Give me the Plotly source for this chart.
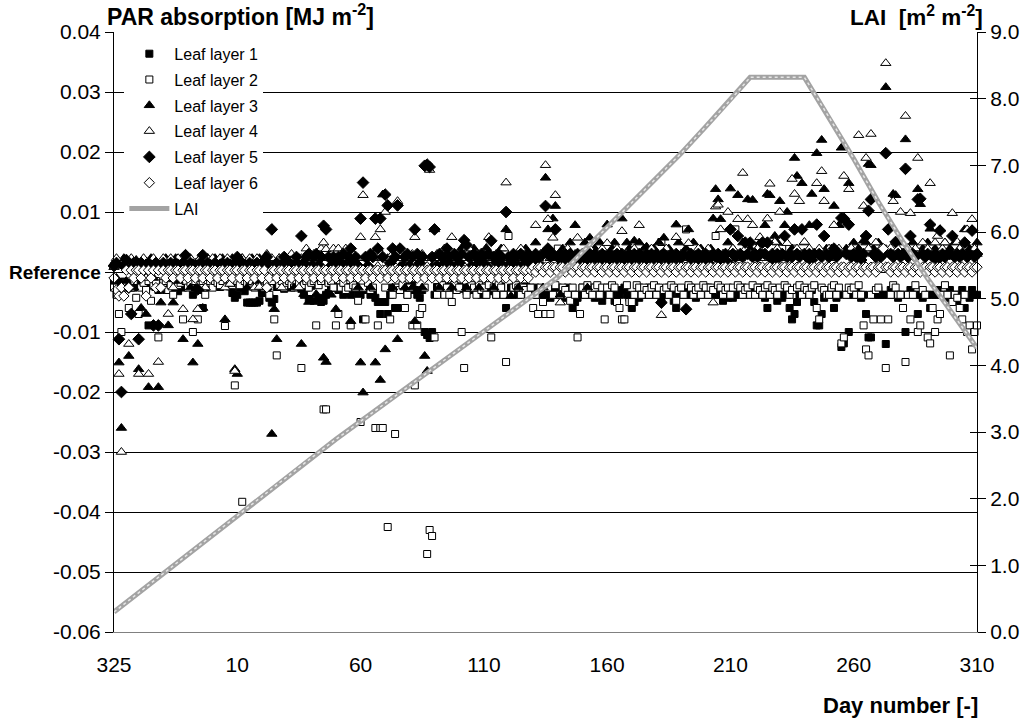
import plotly.graph_objects as go

# x positions are consecutive days starting at day 325 of the first year
day_index = list(range(351))
x_tick_index = [0, 50, 100, 150, 200, 250, 300, 350]
x_tick_labels = ["325", "10", "60", "110", "160", "210", "260", "310"]

# PAR absorption relative to reference, in 10^-3 MJ m-2 (axis labels show MJ m-2)
y_tick_vals = [-60, -50, -40, -30, -20, -10, 0, 10, 20, 30, 40]
y_tick_text = ["-0.06", "-0.05", "-0.04", "-0.03", "-0.02", "-0.01",
               "<span style='font-size:19px'><b>Reference</b></span>",
               "0.01", "0.02", "0.03", "0.04"]
lai_tick_vals = [0, 1, 2, 3, 4, 5, 6, 7, 8, 9]
lai_tick_text = ["0.0", "1.0", "2.0", "3.0", "4.0", "5.0", "6.0", "7.0", "8.0", "9.0"]

layer1 = [
    -1.5, -2, -1.8, -2.2, -1.6, -2.5, -2, -1.8, -2.6, -2.1,
    -1.9, -2.4, -2, -2.8, -8.9, -2.2, -2, -2.5, -3, -2.4,
    -2.2, -3, -2.5, -2, -2.8, -2.4, -3.2, -2, -2.6, -2.3,
    -2, -2.5, -3.8, -2.2, -2.9, -3, -6, -2.4, -2, -2.5,
    -2, -1.8, -2.3, -2.5, -1.5, -2, -1.8, -2.4, -3.5, -4.3,
    -3.8, -2.6, -2.2, -3.2, -5.1, -5.1, -5.1, -5.1, -5.1, -4.8,
    -3.5, -2.6, -3.2, -4.3, -5.1, -4.5, -2.5, -2, -2.3, -2.8,
    -2, -2.4, -2.6, -1.8, -2.5, -2.2, -2.8, -3.8, -2.6, -4.5,
    -2.3, -4.8, -2, -4.3, -5, -4.8, -3.8, -3.5, -2.6, -2.4,
    -2.6, -3, -2.6, -3.8, -3.5, -2.5, -3.8, -2.6, -2.4, -3.8,
    -3.8, -7.9, -3, -2.6, -3.8, -3.2, -4.3, -5, -7, -5,
    -5, -7, -3.8, -2.6, -6, -6, -2.6, -3, -2.4, -3.8,
    -2.6, -2.2, -3, -3.8, -4.3, -3, -10, -10.5, -11, -10,
    -3.8, -2.5, -2.6, -3, -2.2, -2.4, -2.6, -3, -2.2, -2.5,
    -2.4, -2.8, -2.6, -3.2, -2.6, -3, -2.4, -2.6, -2.8, -3.8,
    -2.6, -3.8, -3.2, -2.6, -3, -3.8, -2.6, -2.4, -3.8, -6,
    -3.8, -2.6, -3, -2.8, -3.8, -2.6, -3, -2.4, -2.6, -3.2,
    -3.8, -2.6, -3.8, -3.8, -3.2, -3.8, -3.8, -4.3, -3, -3.8,
    -2.6, -3.8, -4.3, -3, -2.6, -3.8, -6, -5, -4.3, -3.8,
    -2.6, -3.8, -3, -3.8, -2.6, -4.3, -3.8, -3, -4.8, -3.8,
    -3, -2.6, -3.8, -4.8, -4.8, -3.8, -3, -2.6, -3.8, -4.3,
    -6, -5, -3.8, -4.3, -3, -3.8, -3.8, -2.6, -3.8, -3,
    -2.6, -3.8, -4.3, -3, -3.8, -2.6, -3.8, -4.8, -6, -3.8,
    -3.8, -3, -3.8, -3.8, -2.6, -3.8, -4.3, -3, -3.8, -2.6,
    -3.8, -2.6, -3.8, -3, -3.8, -3.8, -3.8, -4.8, -3, -4.3,
    -3.8, -4.3, -3.8, -3, -3.8, -2.6, -3.8, -3, -3.8, -2.6,
    -3.8, -3, -2.6, -3.8, -4.3, -6, -3.8, -3, -3.8, -4.8,
    -3.8, -4.3, -3, -3.8, -6, -7.9, -7, -5, -3.8, -3.8,
    -3, -3.8, -3.8, -3, -5, -8.9, -8.9, -7, -4.3, -3.8,
    -3.8, -3, -6, -4.3, -3.8, -12.5, -11.9, -3.8, -10, -3.8,
    -3.8, -3, -3.8, -4.3, -3.8, -7, -10.9, -10.9, -3.8, -3.8,
    -3, -3.8, -3.8, -12, -3.8, -3, -3.8, -3.8, -4.3, -3.8,
    -3.8, -10, -3.8, -3, -3.8, -3.8, -7, -3.8, -4.3, -3.8,
    -3.8, -6, -3.8, -3.8, -3, -3.8, -3.8, -4.3, -3.8, -3,
    -3.8, -3.8, -4.8, -3.8, -3, -6, -3.8, -4.3, -3, -3.8,
    -3.8,
]

layer2 = [
    -2.6, -3.8, -7, -10, -2.6, -1.8, -6, -2.6, -1.5, -4.3,
    -7, -2.6, -1.8, -3, -1.5, -4.8, -2.2, -1.5, -10.9, -2.6,
    -1.8, -1.5, -3, -2.2, -3.8, -1.5, -2.2, -1.8, -7.9, -1.5,
    -2.6, -1.8, -10, -1.5, -7.9, -2.2, -1.5, -3.8, -1.8, -1.5,
    -2.6, -1.5, -1.8, -2.2, -1.5, -9, -1.8, -1.5, -2.2, -18.9,
    -1.5, -2.2, -38.3, -1.5, -1.8, -2.2, -1.5, -2.6, -1.8, -2.2,
    -1.5, -2.6, -1.8, -3.8, -1.5, -7.9, -13.9, -2.2, -1.5, -2.6,
    -1.8, -1.5, -2.2, -2.6, -1.5, -1.8, -16, -2.2, -1.5, -2.6,
    -1.8, -1.5, -8.9, -2.2, -1.5, -22.9, -22.9, -1.8, -1.5, -2.6,
    -8.9, -7, -2.6, -1.8, -3, -2.6, -8.9, -2.2, -2.6, -4.8,
    -25, -2.6, -7.9, -1.8, -3, -2.6, -26, -8.9, -26, -26,
    -2.6, -42.5, -7.9, -3.8, -27, -2.6, -3, -2.2, -6, -3.8,
    -2.6, -8.9, -18.9, -8.9, -7, -6, -2.6, -47, -43, -44,
    -10.9, -3.8, -2.6, -2.2, -3.8, -2.6, -3.8, -5, -2.2, -3,
    -2.6, -10, -16, -3.8, -2.6, -2.2, -2.6, -3.8, -2.2, -3,
    -2.6, -3.8, -2.2, -10.9, -2.6, -3.8, -2.2, -2.6, -3.8, -15,
    6, -3.8, -2.6, -2.2, -2.6, -3.8, -2.6, -3, -3.8, -2.6,
    -6, -3.8, -7, -2.6, -5, -7, -2.6, -7, -3.8, -2.2,
    3.9, -3.8, -2.6, -3, -3.8, -4.8, -2.6, -3.8, -10.9, -7,
    -2.6, -3.8, -2.2, -3, -3.8, -2.6, -2.2, -3.8, -2.6, -7.9,
    -2.6, -3.8, -2.2, -2.6, -5, -6, -7.9, -7.9, -2.2, -5,
    -5, -3.8, -2.2, -2.6, -3.8, -2.6, -3, -3.8, -2.6, -2.2,
    -3.8, -2.6, 5, -3, -2.6, -3.8, -2.2, -2.6, -4.8, -3,
    -2.6, -3.8, 7.1, -2.2, -2.6, -3.8, -3, -2.6, -3.8, -2.2,
    -2.6, -3.8, -2.6, -3, 6, -2.2, -2.6, -3.8, -3, -2.6,
    -3.8, -2.6, 7.1, -2.2, -2.6, -3.8, -3, -2.6, -3.8, -2.2,
    -3.8, -2.6, -3, -3.8, -2.6, -2.2, -3.8, -2.6, -3, -3.8,
    -2.6, 3.9, -2.2, -2.6, -3.8, -3, 3.9, -2.6, -2.2, -3.8,
    -2.6, -3, -3.8, -2.6, -2.2, -6, -7.9, -2.6, -3, -3.8,
    -3.8, -2.6, -2.2, -3.8, -2.6, -11.9, -10.9, -3.8, -2.6, -3,
    -2.6, -3.8, -2.2, -3.8, -8.9, -12.9, -13.9, -3.8, -7.9, -3,
    -2.6, -7.9, 3.9, -16, -7.9, -3.8, -2.2, -2.6, -3.8, -3.8,
    -6, -15, -3.8, -7.9, -3.8, -2.2, -10, -8.9, -3, -3.8,
    -10.9, -11.9, -6, -10, -7.9, -7, -3.8, -2.2, -3.8, -13.9,
    -5, -3.8, -4.3, -6, -7.9, -3.8, -10, -8.9, -12.9, -10,
    -8.9,
]

layer3 = [
    1.5, -1, -15.1, -26, 2.3, -1.5, -14, 1, -2.6, 2,
    -16.2, -6, 1.5, -7, -19.2, 2.3, -1, 1.5, -19.2, -5.1,
    1, 2.3, -8.9, 1, -5.1, 2.3, -1.5, 1, -11.2, 2.3,
    1, -2.6, -15.1, 1.5, -12, 2.3, -6, 1, 2.3, -1,
    1.5, 2.3, -1, 1, 2.3, -7.9, 1, -2, 2.3, -16.2,
    -17, 1, 2.3, 1, -2.6, 1.5, 2.3, 1, -1.5, 2.3,
    1, 2.3, -2.6, 1, -27, -6.2, -11.2, 2.3, 1, -1,
    1.5, 2.3, 1, -2.6, 1, 2.3, -12, -3.7, 1, -5,
    2.3, 1, -3.7, 1, 2.3, -14.3, -15, 2.3, -3.8, 1,
    -6.2, 1, 2.3, -1, 1, 2.3, -8.2, 1, 2.3, -2.6,
    -15.1, -20.1, 2.3, 1, -2.6, 2.3, -15.1, 3.9, -18, 12.9,
    -12.9, 2.3, 1, -2.6, 2.3, -11.2, 1, 2.3, -2.6, 1,
    2.3, -2.6, -8.2, 1, 2.3, -2.6, -14, -16.5, 2.3, 1,
    7.1, 2.3, -2.6, 1, 2.3, 3, 1, -2.6, 2.3, 1,
    2.3, 4, 1, -2.6, 2.3, 1, 3.9, 2.3, -2.6, 1,
    2.3, 4, 1, 2.3, -2.6, 1, 2.3, 3.9, 1, 7.1,
    2.3, -4, 1, 2.3, -2.6, 1, 2.3, 3.9, 1, 2.3,
    1, 4.9, 2.3, 1, -2.6, 15.7, 7.1, 2.3, 8.9, 11,
    2.3, -3.8, 3.9, 1, 2.3, 4.9, 2.3, 7.8, 3, 1,
    2.3, 4.9, -2.6, 5.7, 2.3, 3.9, 1, 4.9, 2.3, 3,
    7.9, 2.3, 3.9, 4.9, 2.3, 3, 8.9, 2.3, 4.9, 3.9,
    2.3, 5.2, 3, 4.9, 2.3, 3.9, 4.2, 2.3, 3, 3.9,
    2.3, 4.9, 3, 5.7, 2.3, 3.9, 3, 2.3, 7.9, 4.9,
    3, 2.3, 3.9, 7.1, 2.3, 4.9, 3, 2.3, 3.9, 2.3,
    3, 2.3, 3.9, 8.9, 13.8, 12.1, 8.8, 3, 2.3, 4.9,
    13.9, 3.9, 3, 12.8, 2.3, 4.9, 3, 12.1, 3.9, 12,
    2.3, 3.9, 4.9, 3, 7.8, 13, 12.8, 3, 6, 4.9,
    11.8, 3, 7.8, 10, 3, 3.9, 19, 16, 3, 14.8,
    4.9, 3, 7.8, 13, 3, 19.8, 3, 22, 13.8, 3.9,
    3, 3.9, 11, 3, 7.8, 20.7, 3, 3.9, 14.8, 3,
    4.9, 3, 3.9, 3, 5.2, 4.9, 18, 17.8, 3.9, 3,
    4.9, 3, 3.9, 30.8, 3, 3.9, 13, 12.8, 3, 4.9,
    3, 22.1, 3.9, 3, 4.9, 3, 13.8, 11.3, 3.9, 3,
    4.9, 7.2, 3, 3.9, 3, 7.1, 3, 4.9, 3, 3.9,
    3, 4.9, 3, 3.9, 3, 7.1, 3, 3.9, 7.1, 3,
    4.9,
]

layer4 = [
    0.8, 2.3, -17, -30, 1, -2.6, -12, 2.3, 1, 0.8,
    -17, 1, 2.3, -1, -17, 1, 2.3, -2.6, -15, 1,
    2.3, 1, -7, 2.3, -2.6, 1, 2.3, 1, -6.2, 2.3,
    1, 2.3, -7.9, 1, -6.2, 2.3, 1, -2.6, 2.3, 1,
    2.3, 1, -1, 2.3, 1, -2.6, 2.3, -2, 1, -16.5,
    2.3, 1, 2.3, -1, 1, 2.3, 1, -2.6, 2.3, -2.5,
    1, 2.3, 3, 1, 2.3, -1, 1, 2.3, -2.6, 1,
    2.3, 1, 3, 2.3, 1, -2.6, 2.3, 1, 3.9, 2.3,
    1, 3, 2.3, 1, 3.9, 4.9, 3.8, 2.3, 1, 3.9,
    2.3, 3.9, 1, 2.3, 3.9, 1, 2.3, 3, 1, 2.3,
    5.8, 12.8, 2.3, 1, 3, 2.3, 5.8, 1, 7.1, 2.3,
    10, 1, 2.3, 3, 1, 11.8, 2.3, 3, 1, 2.3,
    1, 3, 5.8, 2.3, 1, 3, 2.3, 1, 17, 2.3,
    1, 3, 2.3, 1, 3.9, 2.3, 1, 5.8, 2.3, 1,
    3, 2.3, 1, 3.9, 3.9, 1, 2.3, 3, 1, 2.3,
    3, 2.3, 5.8, 1, 2.3, 3, 1, 2.3, 3.9, 14.9,
    2.3, 1, 3, 2.3, 1, 3.9, 2.3, 1, 3, 2.3,
    1, 7.8, 2.3, 3, 1, 17.8, 8.8, 2.3, 5.7, 12.8,
    2.3, -5.1, 3, 2.3, 3.9, 1, 2.3, 3, 5.7, 2.3,
    3, 1, 2.3, 3.9, 1, 3, 2.3, 1, 3.9, 2.3,
    4.8, 1, 3, 2.3, 3.9, 1, 6.8, 2.3, 3, 1,
    2.3, 3.9, 1, 7.8, 2.3, 3, 1, 2.3, 3.9, 1,
    3, 2.3, -7.2, 1, 3.9, 2.3, 3, 1, 5.8, 2.3,
    3, 1, 2.3, 4.8, 3, 1, 2.3, 3.9, 1, 3,
    2.3, 3.9, 1, -5.1, 10.9, 11.2, 7.1, 3, 2.3, 10,
    3, 3.9, 2.3, 8.8, 3, 16.5, 3.8, 8.8, 3, 7.8,
    3, 3.9, 5.8, 3, 2.3, 8.9, 14.7, 3, 5, 3.9,
    10, 3, 2.3, 4.8, 3, 15.5, 13, 3.9, 11.8, 3,
    5, 3, 3.9, 2.3, 3, 14.8, 3.9, 16.8, 11.8, 3,
    3.9, 2.3, 7.8, 3, 3.9, 3, 16, 3, 13.8, 4,
    3, 2.3, 22.8, 3, 11, 19, 3.9, 23, 3, 4.9,
    3, 3.9, 3, 34.8, 3, 4, 11.8, 3, 3.9, 10,
    3, 26, 4, 9.8, 3, 3.9, 19, 3, 4.9, 3,
    3.9, 14.8, 3, 4.9, 6, 3, 3.9, 4.9, 3, 3,
    9.8, 3, 5, 3.9, 3, 4.9, 7.1, 3, 8.8, 3.9,
    3,
]

layer5 = [
    1, 1.5, -11.2, -20, 1, 2, -2.6, -7, 1.5, 1,
    -11.2, 1.5, 1, 1.2, 1.5, 1, -8.9, 1.5, -8.9, 1,
    1.5, 1, 1.2, 1.5, 1, 1.5, 1.2, 1, 1.5, 2.8,
    1, 1.5, 1.2, 1, -2.9, 1.5, 2.8, 1, 1.5, 1.2,
    1, 1.5, 1, 1.2, 1.5, 1, 1.5, 1.2, 1, 1.5,
    2.5, 1, 1.5, 1.2, 1, 1.5, 1, 1.2, 1.5, 1,
    1.5, 1, 2.5, 1.2, 7.1, 1, 1.5, 1, 1.2, 2.5,
    1, 1.5, 1.2, 1, 2.5, 1, 6, 1.5, 2.5, 3,
    1, 2.5, 3, 1.2, 2.5, 7.7, 7.1, 2.5, 1, 2.5,
    1, 2.5, 1.5, 3, 1, 2.5, 3.9, 1.5, 2.5, 1,
    8.9, 14.9, 2.5, 1, 3, 2.5, 8.9, 3.9, 8.9, 2.5,
    12.9, 11.1, 1.5, 3.9, 2.5, 11.1, 3.9, 1, 2.5, 3,
    1, 2.5, 7.1, 3, 1.5, 2.5, 17.7, 17.9, 17.5, 2.5,
    7.1, 1, 3, 2.5, 1.5, 3.9, 2.5, 1, 3, 2.5,
    1.5, 3, 5.3, 4.5, 2.5, 1, 3, 2.5, 1.5, 3,
    2.5, 1, 3, 5.2, 2.5, 1.5, 3, 2.5, 1, 10,
    2.5, 1.5, 3, 2.5, 1, 3, 2.5, 1.5, 3, 2.5,
    1.5, 3, 2.5, 1, 3, 11, 3.9, 2.5, 3, 7.1,
    2.5, 3, 1.5, 3, 2.5, 3, 1.5, 2.5, 3, 2,
    3, 2.5, 1.5, 3, 2.5, 3, 2, 2.5, 3, 1.5,
    2.5, 3, 2.5, 1.5, 3, 2.5, 3, 2, 2.5, 3,
    1.5, 3, 2.5, 3, 2, 2.5, 3, 1.5, 3, 2.5,
    3, 2, -5.1, 3, 2.5, 1.5, 3, 2.5, 3, 2,
    2.5, 3, -6.2, 2.5, 3, 1.5, 2.5, 3, 2, 2.5,
    3, 1.5, 2.5, 3, 2.5, 3, 2, 2.5, 3, 1.5,
    7.1, 3, 2.5, 6, 3, 2.5, 4.9, 3, 4.9, 2.5,
    3, 2.5, 3, 4.9, 3, 4.9, 2.5, 3, 2, 3,
    2.5, 3, 6, 2.5, 3, 2.5, 7.1, 3, 2.5, 7.1,
    3, 2.5, 3, 2, 3, 7.9, 3, 2.5, 6, 3,
    2.5, 3, 3.9, 2.5, 3, 9, 8.9, 3, 7.9, 2.5,
    3, 2.5, 3, 2, 3, 6, 10.2, 12.1, 3, 2.5,
    3, 2.5, 3, 19.8, 7.1, 3, 2.5, 5, 3, 2.5,
    3, 17.2, 2.5, 6, 3, 2.5, 12.1, 12.2, 3, 2.5,
    3, 7.9, 2.5, 3, 2, 6.9, 3, 2.5, 3, 3,
    6, 2.5, 3, 2.5, 3, 4.9, 2.5, 3, 6.9, 2.5,
    3,
]

layer6 = [
    -1, -3, -4, -2.6, -4, 0.3, -2.6, 0.3, -1, 0.3,
    0.3, -1, 0.3, -4, 0.3, -1, 0.3, -2.6, 0.3, -2.6,
    0.3, -1, 0.3, 0.3, -1, 0.3, 0.3, -1, 0.3, 0.3,
    -1, 0.3, 0.3, -1, 0.3, 0.3, -1, 0.3, 0.3, -1,
    0.3, 0.3, -1, 0.3, 0.3, -1, 0.3, 0.3, -1, 0.3,
    0.3, -1, 0.3, 0.3, -1, 0.3, 0.3, -1, 0.3, 0.3,
    -1, 0.3, -2.6, -1, 0.3, 0.3, -1, 0.3, 0.3, -1,
    0.3, 0.3, -1, 0.3, 0.3, -1, 0.3, 0.3, -1, 0.3,
    0.3, -1, 0.3, 0.3, -1, 0.3, 0.3, -1, 0.3, 0.3,
    -1, 0.3, 0.3, -1, 0.3, 0.3, -1, 0.3, 0.3, -1,
    0.3, 0.3, -1, 0.3, 0.3, -1, 0.3, 0.3, -1, 0.3,
    0.3, -1, 0.3, 0.3, -1, 0.3, 0.3, -1, 0.3, 0.3,
    -1, 0.3, 0.3, -1, 0.3, 0.3, -1, 0.3, 0.3, -1,
    0.3, 0.3, -1, 0.3, 0.3, -1, 0.3, 0.3, -1, 0.3,
    0.3, -1, 0.3, 0.3, -1, 0.3, 0.3, -1, 0.3, 0.3,
    -1, 0.3, 0.3, -1, 0.3, 0.3, -1, 0.3, 0.3, -1,
    0.3, 0.3, -1, 0.3, 0.3, -1, 0.3, 0.3, -1, 0.3,
    0.8, 0, 0.8, 0.8, 0, 0.8, 0.8, 0, 0.8, 0.8,
    0, 0.8, 0.8, 0, 0.8, 0.8, 0, 0.8, 0.8, 0,
    0.8, 0.8, 0, 0.8, 0.8, 0, 0.8, 0.8, 0, 0.8,
    0.8, 0, 0.8, 0.8, 0, 0.8, 0.8, 0, 0.8, 0.8,
    0, 0.8, 0.8, 0, 0.8, 0.8, 0, 0.8, 0.8, 0,
    0.8, 0.8, 0, 0.8, 0.8, 0, 0.8, 0.8, 0, 0.8,
    0.8, 0, 0.8, 0.8, 0, 0.8, 0.8, 0, 0.8, 0.8,
    0, 0.8, 0.8, 0, 0.8, 0.8, 0, 0.8, 0.8, 0,
    0.8, 0.8, 0, 0.8, 0.8, 0, 0.8, 0.8, 0, 0.8,
    0.8, 0, 0.8, 0.8, 0, 0.8, 0.8, 0, 0.8, 0.8,
    0, 0.8, 0.8, 0, 0.8, 0.8, 0, 0.8, 0.8, 0,
    0.8, 0.8, 0, 0.8, 0.8, 0, 0.8, 0.8, 0, 0.8,
    0.8, 0, 0.8, 0.8, 0, 0.8, 0.8, 0, 0.8, 0.8,
    0, 0.8, 0.8, 0, 0.8, 0.8, 0, 0.8, 0.8, 0,
    0.8, 0.8, 3.9, 0.8, 0.8, 0, 0.8, 0.8, 0, 0.8,
    0.8, 0, 0.8, 0.8, 0, 0.8, 0.8, 0, 0.8, 0.8,
    0, 0.8, 0.8, 0, 0.8, 0.8, 0, 0.8, 0.8, 0,
    0.8, 0.8, 0, 0.8, 0.8, 0, 0.8, 0.8, 0, 0.8,
    0.8,
]

lai_index = [0, 10, 20, 30, 40, 50, 60, 70, 80, 90, 100, 110, 120, 130, 140,
             150, 160, 170, 180, 190, 200, 210, 220, 230, 240, 250, 258, 280,
             290, 300, 310, 320, 330, 340, 350]
lai_values = [0.30, 0.59, 0.88, 1.17, 1.46, 1.75, 2.04, 2.33, 2.61, 2.89, 3.16,
              3.43, 3.71, 3.98, 4.24, 4.51, 4.78, 5.06, 5.32, 5.70, 6.07, 6.44,
              6.82, 7.18, 7.58, 7.98, 8.32, 8.32, 7.72, 7.10, 6.45, 5.85, 5.30,
              4.78, 4.26]

FONT = "Liberation Sans, Arial, sans-serif"
fig = go.Figure()

series = [
    ("Leaf layer 1", layer1, "square", "black", 7),
    ("Leaf layer 2", layer2, "square", "white", 7),
    ("Leaf layer 3", layer3, "triangle-up", "black", 9),
    ("Leaf layer 4", layer4, "triangle-up", "white", 9),
    ("Leaf layer 5", layer5, "diamond", "black", 9),
    ("Leaf layer 6", layer6, "diamond", "white", 8),
]
for i, (name, vals, sym, fill, size) in enumerate(series):
    fig.add_trace(go.Scatter(
        x=day_index[:len(vals)], y=vals, mode="markers", name=name,
        legendgroup="g%d" % i, cliponaxis=False,
        marker=dict(symbol=sym, color=fill, size=size,
                    line=dict(color="black", width=1)),
    ))

fig.add_trace(go.Scatter(
    x=lai_index, y=lai_values, mode="lines", name="LAI", yaxis="y2",
    legendgroup="g6", line=dict(color="#a3a3a3", width=5),
))
fig.add_trace(go.Scatter(
    x=lai_index, y=lai_values, mode="lines", showlegend=False, yaxis="y2",
    hoverinfo="skip", line=dict(color="#e6e6e6", width=1.5, dash="dot"),
))

fig.update_layout(
    width=1031, height=722,
    margin=dict(l=114, r=54, t=32, b=90, autoexpand=False),
    paper_bgcolor="white", plot_bgcolor="white",
    font=dict(family=FONT, color="black", size=21),
    showlegend=True,
    legend=dict(x=0.012, y=0.992, xanchor="left", yanchor="top",
                bgcolor="white", borderwidth=0, font=dict(size=16, family=FONT),
                itemwidth=40, tracegroupgap=2),
    xaxis=dict(range=[0, 350], tickvals=x_tick_index, ticktext=x_tick_labels,
               showgrid=False, zeroline=False, showline=True, linecolor="#808080",
               linewidth=1, ticks="", ticklabelstandoff=14,
               tickfont=dict(size=21, family=FONT)),
    yaxis=dict(range=[-60, 40], tickvals=y_tick_vals, ticktext=y_tick_text,
               showgrid=True, gridcolor="black", gridwidth=1, zeroline=False,
               showline=True, linecolor="black", linewidth=1,
               ticks="outside", ticklen=8, tickcolor="black",
               tickfont=dict(size=21, family=FONT)),
    yaxis2=dict(range=[0, 9], tickvals=lai_tick_vals, ticktext=lai_tick_text,
                overlaying="y", side="right", showgrid=False, zeroline=False,
                showline=True, linecolor="black", linewidth=1,
                ticks="outside", ticklen=8, tickcolor="black",
                tickfont=dict(size=21, family=FONT)),
    # inner half of the cross-shaped tick marks on the LAI axis
    yaxis3=dict(range=[0, 9], tickvals=lai_tick_vals, overlaying="y", side="right",
                showgrid=False, zeroline=False, showline=False,
                ticks="inside", ticklen=7, tickcolor="black",
                showticklabels=False),
    annotations=[
        dict(text="<b>PAR absorption [MJ m<sup>-2</sup>]</b>", xref="paper", yref="paper",
             x=-0.011, y=1.0, xanchor="left", yanchor="bottom", showarrow=False,
             font=dict(size=23, family=FONT)),
        dict(text="<b>LAI  [m<sup>2</sup> m<sup>-2</sup>]</b>", xref="paper", yref="paper",
             x=1.009, y=1.0, xanchor="right", yanchor="bottom", showarrow=False,
             font=dict(size=22.5, family=FONT)),
        dict(text="<b>Day number [-]</b>", xref="paper", yref="paper",
             x=1.004, y=-0.122, xanchor="right", yanchor="middle", showarrow=False,
             font=dict(size=22, family=FONT)),
    ],
)
# an empty trace keeps the third (tick-only) axis drawn
fig.add_trace(go.Scatter(x=[], y=[], yaxis="y3", showlegend=False, hoverinfo="skip"))

fig.write_html("out.html", config={"displayModeBar": False},
               post_script="document.body.style.margin='0';")
